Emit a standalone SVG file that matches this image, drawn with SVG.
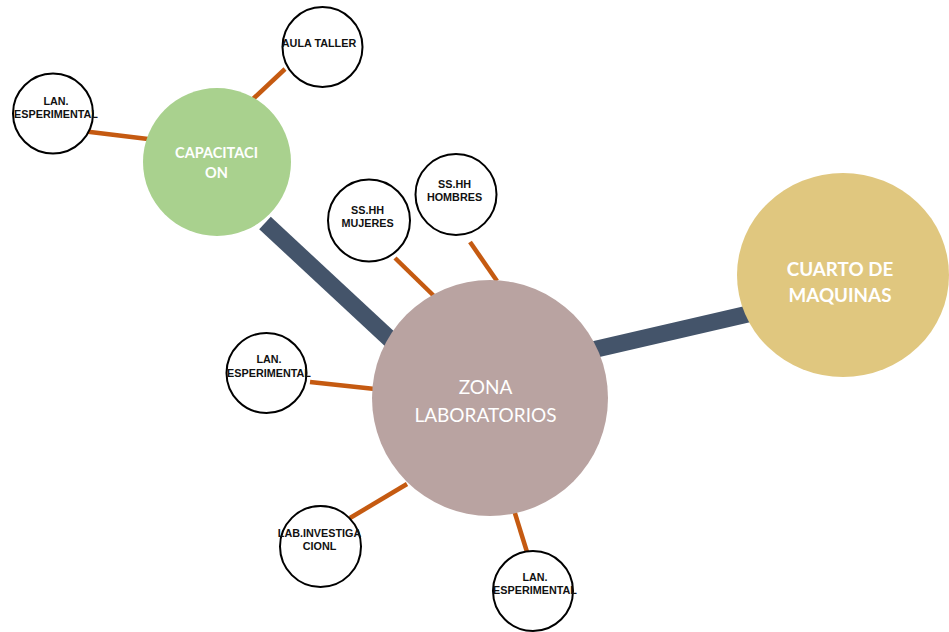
<svg xmlns="http://www.w3.org/2000/svg" width="949" height="632" viewBox="0 0 949 632">
<style>
.small{fill:#fff;stroke:#000;stroke-width:2}
.st{font-family:"Liberation Sans",Arial,sans-serif;font-weight:bold;font-size:10.8px;fill:#111;text-anchor:middle}
.thin{stroke:#C55A11;stroke-width:4.5;stroke-linecap:butt;fill:none}
.thick{stroke:#44546A;stroke-width:17;stroke-linecap:butt;fill:none}
.big{font-family:Lato,"Open Sans",sans-serif;fill:#fff;text-anchor:middle}
</style>
<rect width="949" height="632" fill="#fff"/>
<g id="connectors">
<line class="thick" x1="265" y1="223" x2="393" y2="342"/>
<line class="thick" x1="588" y1="351" x2="748" y2="314"/>
<line class="thin" x1="253" y1="99" x2="285" y2="69"/>
<line class="thin" x1="82" y1="131" x2="148" y2="139"/>
<line class="thin" x1="395" y1="258" x2="434" y2="296"/>
<line class="thin" x1="470" y1="242" x2="497" y2="281"/>
<line class="thin" x1="310" y1="382" x2="375" y2="389"/>
<line class="thin" x1="350" y1="518" x2="407" y2="484"/>
<line class="thin" x1="513" y1="507" x2="527" y2="552"/>
</g>
<g id="capacitacion">
<circle cx="217" cy="162" r="74" fill="#A9D18E"/>
<text class="big" font-weight="bold" font-size="14.5" x="216.5" y="158">CAPACITACI</text>
<text class="big" font-weight="bold" font-size="14.5" x="216.5" y="178">ON</text>
</g>
<g id="zona">
<circle cx="490" cy="398" r="118" fill="#B9A3A1"/>
<text class="big" font-size="19" x="485.5" y="394">ZONA</text>
<text class="big" font-size="19" x="485.5" y="422">LABORATORIOS</text>
</g>
<g id="cuarto">
<ellipse cx="843" cy="275" rx="106" ry="102" fill="#E0C77F"/>
<text class="big" font-weight="bold" font-size="18.8" x="840" y="276">CUARTO DE</text>
<text class="big" font-weight="bold" font-size="18.8" x="840" y="302">MAQUINAS</text>
</g>
<g id="aula">
<circle class="small" cx="322.5" cy="47" r="40"/>
<text class="st" x="319" y="47">AULA TALLER</text>
</g>
<g id="lan1">
<circle class="small" cx="53" cy="113.5" r="40"/>
<text class="st" x="56" y="104.5">LAN.</text>
<text class="st" x="56" y="118">ESPERIMENTAL</text>
</g>
<g id="mujeres">
<circle class="small" cx="369" cy="220.5" r="41"/>
<text class="st" x="367.5" y="214">SS.HH</text>
<text class="st" x="367.5" y="227">MUJERES</text>
</g>
<g id="hombres">
<circle class="small" cx="456" cy="194.5" r="40.5"/>
<text class="st" x="454.5" y="188">SS.HH</text>
<text class="st" x="454.5" y="201">HOMBRES</text>
</g>
<g id="lan2">
<circle class="small" cx="266.5" cy="373" r="40"/>
<text class="st" x="269" y="363">LAN.</text>
<text class="st" x="269" y="377">ESPERIMENTAL</text>
</g>
<g id="labinv">
<circle class="small" cx="320.5" cy="546.5" r="40.5"/>
<text class="st" x="319.5" y="537">LAB.INVESTIGA</text>
<text class="st" x="319.5" y="550">CIONL</text>
</g>
<g id="lan3">
<circle class="small" cx="533" cy="591" r="40"/>
<text class="st" x="535" y="581">LAN.</text>
<text class="st" x="535" y="594">ESPERIMENTAL</text>
</g>
</svg>
